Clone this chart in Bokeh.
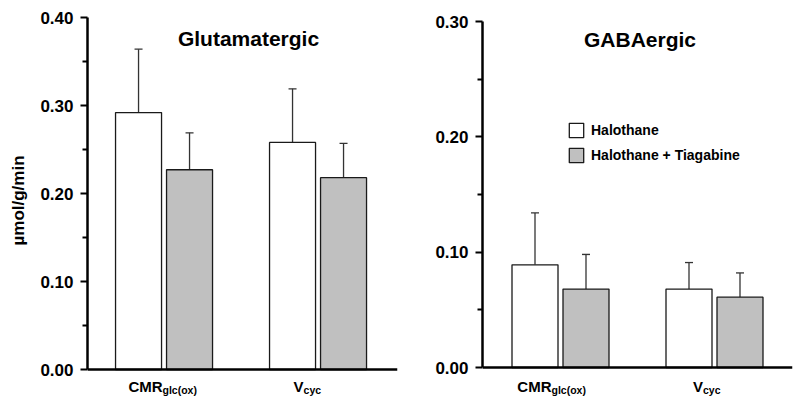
from bokeh.plotting import figure
from bokeh.layouts import row
from bokeh.models import (Range1d, FixedTicker, PrintfTickFormatter, Span,
                          Whisker, TeeHead, ColumnDataSource, Label, Legend, LegendItem)
from bokeh.embed import file_html
from bokeh.resources import INLINE

# ---------------- data ----------------
groups = [1, 2]
group_main = ["CMR", "V"]
group_sub = ["glc(ox)", "cyc"]
series_names = ["Halothane", "Halothane + Tiagabine"]

glu_halo_mean = [0.292, 0.258]
glu_halo_sd = [0.072, 0.061]
glu_tiag_mean = [0.227, 0.218]
glu_tiag_sd = [0.042, 0.039]

gaba_halo_mean = [0.089, 0.068]
gaba_halo_sd = [0.045, 0.023]
gaba_tiag_mean = [0.068, 0.061]
gaba_tiag_sd = [0.030, 0.021]

glu_ticks = [0.0, 0.1, 0.2, 0.3, 0.4]
glu_minor = [0.05, 0.15, 0.25, 0.35]
gaba_ticks = [0.0, 0.1, 0.2, 0.3]
gaba_minor = [0.05, 0.15, 0.25]

# ---------------- style ----------------
FONT = "Liberation Sans"
PXU = 154.0            # pixels per x unit
BAR_W = 46 / PXU
OFF = 25.5 / PXU
FILLS = ["white", "#c0c0c0"]
EDGE = "#1a1a1a"
HEIGHT = 400


def make_panel(title, means, sds, ymax, ticks, minor, width, b_left, b_right, top_px, zero_px,
               x_start, title_fx, title_above, lab_off, lab_below, ylabel=None, legend=False):
    # frame spans the whole canvas height; the data window is placed inside it
    frame_w = width - b_left - b_right
    ypx = (zero_px - top_px) / ymax
    y_start = -(HEIGHT - zero_px) / ypx
    y_end = ymax + top_px / ypx
    p = figure(width=width, height=HEIGHT, output_backend="svg", toolbar_location=None,
               title=None,
               x_range=Range1d(x_start, x_start + frame_w / PXU),
               y_range=Range1d(y_start, y_end),
               min_border_left=b_left, min_border_right=b_right,
               min_border_top=0, min_border_bottom=0)
    p.outline_line_color = None
    p.grid.visible = False
    p.xaxis.visible = False
    p.background_fill_color = "white"
    p.border_fill_color = "white"

    def dx(fx):
        return x_start + fx / PXU

    def dy(fy):
        return fy / ypx

    # x axis baseline
    p.add_layout(Span(location=0, dimension="width", line_color="black", line_width=2.5))

    renderers = []
    for k, (m, s) in enumerate(zip(means, sds)):
        xs = [g + (2 * k - 1) * OFF for g in groups]
        src = ColumnDataSource(dict(x=xs, top=m, upper=[a + b for a, b in zip(m, s)]))
        r = p.vbar(x="x", top="top", bottom=0, width=BAR_W, source=src,
                   fill_color=FILLS[k], line_color=EDGE, line_width=1.3)
        renderers.append(r)
        w = Whisker(source=src, base="x", lower="top", upper="upper", dimension="height",
                    line_color="#333333", line_width=1.3, lower_head=None,
                    upper_head=TeeHead(size=8, line_color="#333333", line_width=1.3))
        p.add_layout(w)

    # y axis
    ya = p.yaxis[0]
    ya.ticker = FixedTicker(ticks=ticks, minor_ticks=minor)
    ya.bounds = (0, ymax)
    ya.formatter = PrintfTickFormatter(format="%.2f")
    ya.axis_line_width = 2.5
    ya.axis_line_color = "black"
    ya.major_tick_in = 0
    ya.major_tick_out = 7
    ya.minor_tick_in = 0
    ya.minor_tick_out = 5
    ya.major_tick_line_width = 2
    ya.minor_tick_line_width = 2
    ya.major_label_standoff = 7
    ya.major_label_text_font = FONT
    ya.major_label_text_font_style = "bold"
    ya.major_label_text_font_size = "17px"
    ya.major_label_text_color = "black"
    if ylabel:
        ya.axis_label = ylabel
        ya.axis_label_text_font = FONT
        ya.axis_label_text_font_style = "bold"
        ya.axis_label_text_font_size = "17px"
        ya.axis_label_text_color = "black"
        ya.axis_label_standoff = 9

    # title
    p.add_layout(Label(x=dx(title_fx), y=dy(title_above), text=title, text_align="center",
                       text_baseline="alphabetic", text_font=FONT, text_font_style="bold",
                       text_font_size="21px", text_color="black"))

    # category labels with subscripts
    for g, main, sub, off in zip(groups, group_main, group_sub, lab_off):
        xj = g + off / PXU
        p.add_layout(Label(x=xj, y=dy(-lab_below), text=main, text_align="right",
                           text_baseline="alphabetic", text_font=FONT, text_font_style="bold",
                           text_font_size="15px", text_color="black"))
        p.add_layout(Label(x=xj, y=dy(-lab_below - 3.5), text=sub, text_align="left",
                           text_baseline="alphabetic", text_font=FONT, text_font_style="bold",
                           text_font_size="10.5px", text_color="black"))

    if legend:
        lg = Legend(items=[LegendItem(label=n, renderers=[r]) for n, r in zip(series_names, renderers)],
                    location=(85, HEIGHT - 164), orientation="vertical",
                    glyph_width=18, glyph_height=18, label_height=18, spacing=7,
                    label_standoff=6, padding=0, margin=0,
                    border_line_color=None, background_fill_alpha=0,
                    label_text_font=FONT, label_text_font_style="bold",
                    label_text_font_size="14px", label_text_color="black")
        p.add_layout(lg)
    return p


p1 = make_panel("Glutamatergic", [glu_halo_mean, glu_tiag_mean], [glu_halo_sd, glu_tiag_sd],
                0.40, glu_ticks, glu_minor, 400, 87, 3, 17, 369,
                0.503, 161, 331, (-1.5, -14.5), 17, ylabel="µmol/g/min")
p2 = make_panel("GABAergic", [gaba_halo_mean, gaba_tiag_mean], [gaba_halo_sd, gaba_tiag_sd],
                0.30, gaba_ticks, gaba_minor, 394, 82, 2, 21, 367,
                0.4935, 157.5, 328, (-9, -11.5), 19, legend=True)

layout = row(p1, p2, spacing=0)
open("out.html", "w").write(file_html(layout, INLINE))
